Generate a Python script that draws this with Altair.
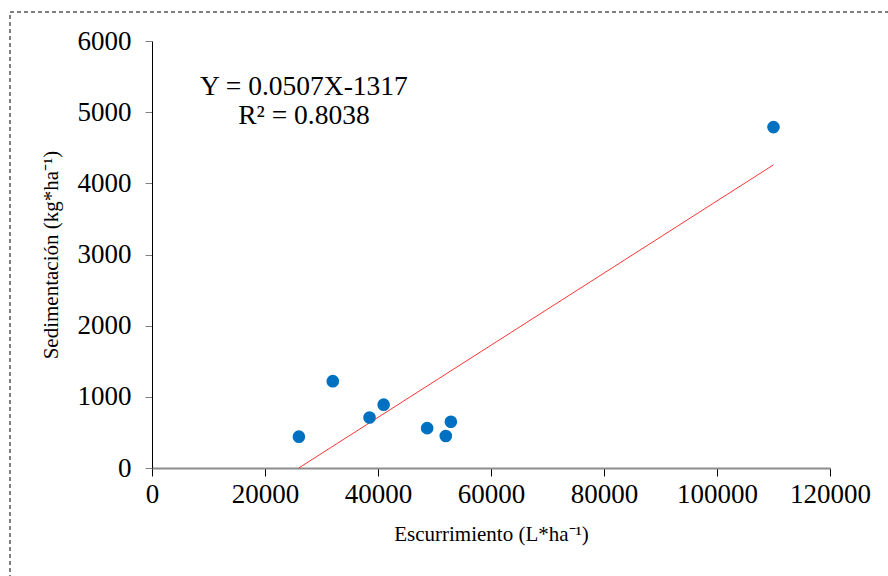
import altair as alt
import pandas as pd

escurrimiento = [26000, 32000, 38500, 41000, 48700, 52000, 52900, 110000]
sedimentacion = [440, 1220, 710, 890, 560, 450, 650, 4790]

trend_x = [25976, 110000]
slope = 0.0507
intercept = -1317
trend_y = [slope * v + intercept for v in trend_x]

ann_text = ["Y = 0.0507X-1317", "R² = 0.8038"]
ann_x = [26900, 26900]
ann_y = [5360, 4940]

pts = pd.DataFrame({"x": escurrimiento, "y": sedimentacion})
trend = pd.DataFrame({"x": trend_x, "y": trend_y})
ann = pd.DataFrame({"x": ann_x, "y": ann_y, "t": ann_text})

FONT = "Liberation Serif"

xscale = alt.Scale(domain=[0, 120000], nice=False, zero=True)
yscale = alt.Scale(domain=[0, 6000], nice=False)

xaxis = alt.Axis(
    title="Escurrimiento (L*ha⁻¹)", values=[0, 20000, 40000, 60000, 80000, 100000, 120000],
    format="d", grid=False, domainColor="#8c8c8c", domainWidth=2, tickColor="#000000",
    tickSize=8, labelPadding=5, titlePadding=16,
    labelFont=FONT, labelFontSize=27,
)
yaxis = alt.Axis(
    title="Sedimentación (kg*ha⁻¹)", values=[0, 1000, 2000, 3000, 4000, 5000, 6000],
    format="d", grid=False, domainColor="#000000", domainWidth=1, tickColor="#808080",
    tickSize=7, labelPadding=14, titlePadding=16,
    labelFont=FONT, labelFontSize=27,
)

border = alt.Chart(pd.DataFrame({"a": [0]})).mark_rect(
    fill=None, stroke="#000000", strokeDash=[4, 3], strokeWidth=1
).encode(
    x=alt.value(-142), x2=alt.value(760), y=alt.value(-29), y2=alt.value(560)
)

points = alt.Chart(pts).mark_circle(size=160, color="#0070C0", opacity=1).encode(
    x=alt.X("x:Q", scale=xscale, axis=xaxis),
    y=alt.Y("y:Q", scale=yscale, axis=yaxis),
)

line = alt.Chart(trend).mark_line(color="#ff0000", strokeWidth=0.8).encode(
    x=alt.X("x:Q", scale=xscale), y=alt.Y("y:Q", scale=yscale)
)

text = alt.Chart(ann).mark_text(font=FONT, fontSize=27.5, color="#000000", align="center").encode(
    x=alt.X("x:Q", scale=xscale), y=alt.Y("y:Q", scale=yscale), text="t:N"
)

chart = alt.layer(border, line, points, text).properties(
    width=678, height=427,
    autosize=alt.AutoSizeParams(type="none"),
    padding={"left": 152, "top": 41, "right": 58, "bottom": 108},
    background="white",
).configure_view(stroke=None).configure_axis(
    labelFont=FONT, labelFontSize=27, labelColor="#000000", labelFlush=False,
    titleFont=FONT, titleFontSize=21, titleFontWeight="normal", titleColor="#000000",
)

chart.save("out.html", embed_options={"renderer": "svg", "actions": False})
